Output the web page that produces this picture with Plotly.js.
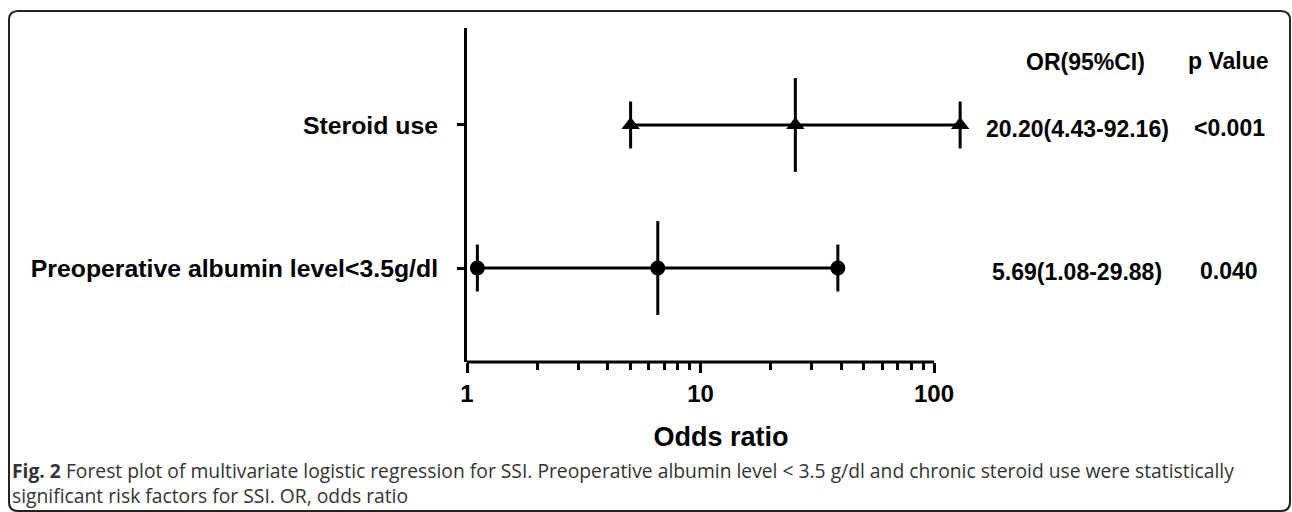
<!DOCTYPE html>
<html>
<head>
<meta charset="utf-8">
<script src="https://cdn.plot.ly/plotly-3.0.1.min.js"></script>
<style>
  html, body { margin: 0; padding: 0; background: #ffffff; }
  #chart { width: 1292px; height: 512px; }
</style>
</head>
<body>
<div id="chart"></div>
<script>
// ---- data ----
const categories = ['Preoperative albumin level<3.5g/dl', 'Steroid use'];
const oddsRatios = [5.69, 20.20];
const ciLower = [1.08, 4.43];
const ciUpper = [29.88, 92.16];
const orLabels = ['5.69(1.08-29.88)', '20.20(4.43-92.16)'];
const pLabels = ['0.040', '<0.001'];
const xTickValues = [1, 10, 100];
const xTickLabels = ['1', '10', '100'];
const xMinorTicks = [2, 3, 4, 5, 6, 7, 8, 9, 20, 30, 40, 50, 60, 70, 80, 90];
const axisMin = 1, axisMax = 100;
const headerLabels = ['OR(95%CI)', 'p Value'];
const captionBold = 'Fig. 2';
const captionLine1 = ' Forest plot of multivariate logistic regression for SSI. Preoperative albumin level < 3.5 g/dl and chronic steroid use were statistically';
const captionLine2 = 'significant risk factors for SSI. OR, odds ratio';

// ---- layout geometry (pixels) ----
const W = 1292, H = 512;
const PL = 467, PR = 975, PT = 28, PB = 362;   // plot area (wider than axis so the last cap is not clipped)
const DECADE = 233.5;                           // pixels per decade on the drawn axis
const px = x => (x - PL) / (PR - PL);
const py = y => (PB - y) / (PB - PT);

const FONT = 'Liberation Sans, Arial, Helvetica, sans-serif';
const symbols = ['circle', 'triangle-up'];

const traces = [
  // anchor trace so the visible axis pair exists
  { type: 'scatter', mode: 'markers', xaxis: 'x', yaxis: 'y', x: [], y: [], hoverinfo: 'skip', showlegend: false }
];
categories.forEach((cat, i) => {
  traces.push({
    type: 'scatter', mode: 'lines', xaxis: 'x2', yaxis: 'y',
    x: [ciLower[i], ciUpper[i]], y: [cat, cat],
    line: { color: '#000', width: 3 }, hoverinfo: 'skip', showlegend: false
  });
  traces.push({
    type: 'scatter', mode: 'markers', xaxis: 'x2', yaxis: 'y',
    x: [ciLower[i], ciUpper[i]], y: [cat, cat],
    marker: { symbol: 'line-ns', size: 33.5, line: { color: '#000', width: 3 } },
    cliponaxis: false, hoverinfo: 'skip', showlegend: false
  });
  traces.push({
    type: 'scatter', mode: 'markers', xaxis: 'x2', yaxis: 'y',
    x: [oddsRatios[i]], y: [cat],
    marker: { symbol: 'line-ns', size: 67, line: { color: '#000', width: 3 } },
    cliponaxis: false, hoverinfo: 'skip', showlegend: false
  });
  traces.push({
    type: 'scatter', mode: 'markers', xaxis: 'x2', yaxis: 'y',
    x: [ciLower[i], oddsRatios[i], ciUpper[i]], y: [cat, cat, cat],
    marker: { symbol: symbols[i], size: symbols[i] === 'circle' ? 15 : 16, color: '#000', line: { width: 0 } },
    cliponaxis: false, showlegend: false
  });
});

// border path (rounded rectangle)
const L = 9, T = 11, R = 1290, B = 511, r = 9;
const P = (x, y) => px(x).toFixed(5) + ',' + py(y).toFixed(5);
const borderPath = 'M' + P(L + r, T) + ' L' + P(R - r, T) + ' Q' + P(R, T) + ' ' + P(R, T + r) +
  ' L' + P(R, B - r) + ' Q' + P(R, B) + ' ' + P(R - r, B) + ' L' + P(L + r, B) +
  ' Q' + P(L, B) + ' ' + P(L, B - r) + ' L' + P(L, T + r) + ' Q' + P(L, T) + ' ' + P(L + r, T) + ' Z';

const annFont = { family: FONT, size: 23, color: '#000', weight: 'bold' };
const capFont = { family: 'Open Sans, sans-serif', size: 19.3, color: '#333' };
const annotations = [
  { text: headerLabels[0], x: px(1085), y: py(62), xref: 'paper', yref: 'paper', showarrow: false, xanchor: 'center', yanchor: 'middle', font: annFont },
  { text: headerLabels[1], x: px(1228), y: py(61), xref: 'paper', yref: 'paper', showarrow: false, xanchor: 'center', yanchor: 'middle', font: annFont },
  { text: '<b>' + captionBold + '</b>' + captionLine1 + '<br>' + captionLine2, x: px(10), y: py(483), xref: 'paper', yref: 'paper',
    showarrow: false, xanchor: 'left', yanchor: 'middle', align: 'left', font: capFont }
];
categories.forEach((cat, i) => {
  annotations.push({ text: orLabels[i], x: px(1077), y: i, xref: 'paper', yref: 'y', yshift: -4, showarrow: false, xanchor: 'center', yanchor: 'middle', font: annFont });
  annotations.push({ text: pLabels[i], x: px(1229), y: i, xref: 'paper', yref: 'y', yshift: -3, showarrow: false, xanchor: 'center', yanchor: 'middle', font: annFont });
});

const layout = {
  width: W, height: H,
  margin: { l: PL, r: W - PR, t: PT, b: H - PB, pad: 0 },
  paper_bgcolor: '#fff', plot_bgcolor: 'rgba(0,0,0,0)',
  showlegend: false,
  xaxis: {
    type: 'log', range: [0, (PR - PL) / DECADE], fixedrange: true,
    showline: false,
    ticks: 'outside', ticklen: 10, tickwidth: 3, tickcolor: '#000',
    tickmode: 'array', tickvals: xTickValues, ticktext: xTickLabels,
    tickfont: { family: FONT, size: 24, color: '#000', weight: 'bold' },
    minor: { tickmode: 'array', tickvals: xMinorTicks, ticks: 'outside', ticklen: 7, tickwidth: 3, tickcolor: '#000', showgrid: false },
    showgrid: false, zeroline: false, automargin: false,
    title: { text: 'Odds ratio', font: { family: FONT, size: 27, color: '#000', weight: 'bold' }, standoff: 21 }
  },
  xaxis2: {
    type: 'log', overlaying: 'x', range: [-0.008, -0.008 + (PR - PL) / 250], visible: false, fixedrange: true
  },
  yaxis: {
    type: 'category', categoryorder: 'array', categoryarray: categories,
    range: [-0.657, 1.678], fixedrange: true,
    showline: true, linecolor: '#000', linewidth: 3,
    ticks: 'outside', ticklen: 7, tickwidth: 3, tickcolor: '#000',
    ticklabelstandoff: 14,
    tickfont: { family: FONT, size: 24.8, color: '#000', weight: 'bold' },
    showgrid: false, zeroline: false, automargin: false
  },
  shapes: [
    // x axis line from 1 to 100 on the drawn axis
    { type: 'line', xref: 'x', yref: 'paper', x0: axisMin, x1: axisMax, y0: 0, y1: 0, line: { color: '#000', width: 3 } },
    { type: 'path', xref: 'paper', yref: 'paper', path: borderPath, line: { color: '#222', width: 2 }, fillcolor: 'rgba(0,0,0,0)' }
  ],
  annotations: annotations
};

Plotly.newPlot('chart', traces, layout, { staticPlot: true, displayModeBar: false });
</script>
</body>
</html>
